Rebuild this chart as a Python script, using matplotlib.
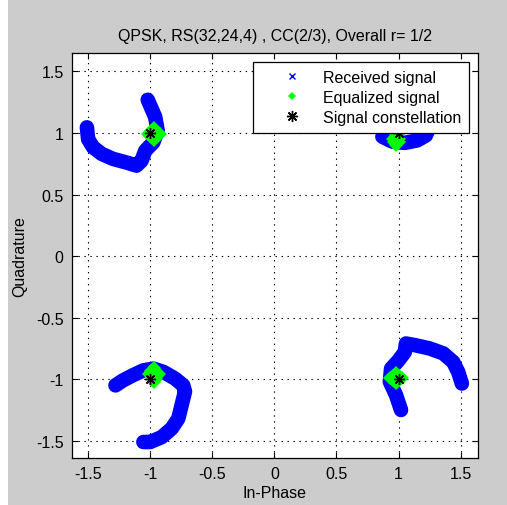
import numpy as np
import matplotlib
matplotlib.use("Agg")
from matplotlib import pyplot as plt
from matplotlib.patches import Rectangle

# --- received signal (arcs, one per symbol) ---
rx_tl = [-1.02, -0.96, -0.94, -0.975, -1.04, -1.07, -1.11, -1.19, -1.30, -1.39, -1.46, -1.50, -1.51]
ry_tl = [1.27, 1.13, 1.02, 0.925, 0.856, 0.775, 0.735, 0.76, 0.79, 0.83, 0.884, 0.95, 1.046]

rx_tr = [0.87, 0.95, 1.05, 1.15, 1.22, 1.25]
ry_tr = [0.97, 0.93, 0.92, 0.94, 0.98, 1.05]

rx_br = [1.02, 0.98, 0.93, 0.94, 1.00, 1.05, 1.06, 1.14, 1.25, 1.36, 1.44, 1.48, 1.51]
ry_br = [-1.25, -1.13, -1.02, -0.914, -0.847, -0.78, -0.71, -0.725, -0.75, -0.79, -0.86, -0.94, -1.035]

rx_bl = [-1.28, -1.22, -1.14, -1.055, -0.975, -0.895, -0.80, -0.734, -0.72, -0.747, -0.774, -0.827, -0.907, -1.0, -1.055]
ry_bl = [-1.05, -1.01, -0.968, -0.928, -0.914, -0.94, -0.995, -1.05, -1.10, -1.21, -1.32, -1.40, -1.47, -1.51, -1.51]

# --- equalized signal ---
ex = [-0.97, -1.015, -0.925, -0.97, -0.99, -0.95, -0.97, -0.99, -0.95,
      0.98, 0.955, 1.005, 0.98, 0.96, 1.00, 0.98,
      0.935, 1.025, 0.98, 0.98, 0.955, 1.005, 0.98, 0.955, 1.005,
      -0.97, -1.01, -0.93, -0.97, -0.99, -0.95, -0.97, -0.97]
ey = [1.04, 0.99, 0.99, 0.94, 1.015, 0.965, 0.99, 0.965, 1.015,
      0.905, 0.95, 0.95, 0.98, 0.93, 0.93, 0.95,
      -0.99, -0.99, -0.95, -1.03, -0.97, -1.01, -0.99, -1.01, -0.97,
      -0.905, -0.96, -0.96, -1.025, -0.935, -1.0, -0.97, -0.94]

# --- ideal QPSK constellation ---
cx = [-1, 1, 1, -1]
cy = [1, 1, -1, -1]

titulo = "QPSK, RS(32,24,4) , CC(2/3), Overall r= 1/2"

plt.rcParams['font.family'] = ['Liberation Sans', 'DejaVu Sans']
plt.rcParams['font.size'] = 11.5
plt.rcParams['lines.scale_dashes'] = False

fig = plt.figure(figsize=(5.07, 5.06), dpi=100, facecolor=(0.8, 0.8, 0.8))
fig.patches.append(Rectangle((0, 0), 8 / 507, 1, transform=fig.transFigure,
                             facecolor='white', edgecolor='none', zorder=-10))
ax = fig.add_axes([72 / 507, 47 / 506, 406 / 507, 405 / 506])

arcos = [(rx_tl, ry_tl), (rx_tr, ry_tr), (rx_br, ry_br), (rx_bl, ry_bl)]
for xs, ys in arcos:
   ax.plot(xs, ys, color='blue', lw=10.5, solid_capstyle='round',
           solid_joinstyle='round', zorder=2)

todos_x = np.concatenate([a[0] for a in arcos])
todos_y = np.concatenate([a[1] for a in arcos])
ax.plot(todos_x, todos_y, linestyle='none', marker='x', color='blue',
        ms=4, mew=1, label='Received signal', zorder=2)

ax.plot(ex, ey, linestyle='none', marker='D', color=(0, 1, 0), ms=7,
        mew=0, label='Equalized signal', zorder=3)
ax.plot(cx, cy, linestyle='none', marker=(8, 2, 0), color='black', ms=8,
        mew=1, label='Signal constellation', zorder=4)

ax.set_xlim(-1.63, 1.64)
ax.set_ylim(-1.64, 1.65)
ticks = [-1.5, -1, -0.5, 0, 0.5, 1, 1.5]
ax.set_xticks(ticks)
ax.set_yticks(ticks)
ax.set_xticklabels(['-1.5', '-1', '-0.5', '0', '0.5', '1', '1.5'])
ax.set_yticklabels(['-1.5', '-1', '-0.5', '0', '0.5', '1', '1.5'])
ax.tick_params(direction='in', top=True, right=True, length=4, width=0.8, pad=6)
ax.grid(True, color='black', linestyle=(0, (1, 3.3)), lw=0.8)
ax.set_axisbelow(True)
for s in ax.spines.values():
   s.set_linewidth(0.9)

ax.set_title(titulo, pad=9, fontsize=11.5)
ax.set_xlabel("In-Phase", labelpad=3)
ax.set_ylabel("Quadrature", labelpad=6)

leg = ax.legend(loc='upper right', fancybox=False, framealpha=1,
                edgecolor='black', borderaxespad=0.56, borderpad=0.5,
                handlelength=3.9, handletextpad=0.0, labelspacing=0.3,
                numpoints=1)
leg.get_frame().set_linewidth(0.9)
leg.legend_handles[1].set_markersize(4.5)
leg.set_zorder(10)

fig.savefig("out.png", dpi=100, facecolor=fig.get_facecolor())
